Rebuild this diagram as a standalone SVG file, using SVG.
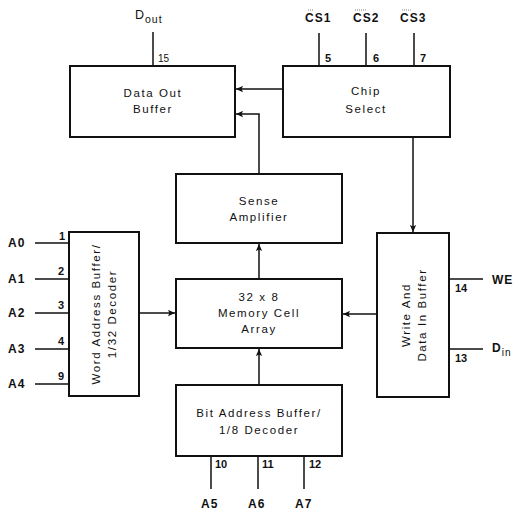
<svg xmlns="http://www.w3.org/2000/svg" width="519" height="514" viewBox="0 0 519 514">
<style>
.box{fill:#fff;stroke:#111;stroke-width:2}
.ln{fill:none;stroke:#111;stroke-width:1.5}
.t{font-family:"Liberation Sans",Arial,sans-serif;font-size:11.5px;letter-spacing:1.6px;fill:#111;text-anchor:middle}
.p{font-family:"Liberation Sans",Arial,sans-serif;font-size:11px;font-weight:bold;fill:#111}
.s{font-family:"Liberation Sans",Arial,sans-serif;font-size:12px;font-weight:bold;letter-spacing:1px;fill:#111}
</style>
<defs>
<marker id="ah" viewBox="0 0 10 10" refX="10" refY="5" markerWidth="9" markerHeight="7" markerUnits="userSpaceOnUse" orient="auto">
<path d="M0,0.5 L10,5 L0,9.5 L2,5 Z" fill="#111"/>
</marker>
</defs>
<rect width="519" height="514" fill="#fff"/>
<g id="connectors">
<path class="ln" d="M283,89 H236" marker-end="url(#ah)"/>
<path class="ln" d="M259,174 V114 H236" marker-end="url(#ah)"/>
<path class="ln" d="M413,137 V232" marker-end="url(#ah)"/>
<path class="ln" d="M259,279 V244" marker-end="url(#ah)"/>
<path class="ln" d="M259,385 V349" marker-end="url(#ah)"/>
<path class="ln" d="M139,313 H175" marker-end="url(#ah)"/>
<path class="ln" d="M377,314 H343" marker-end="url(#ah)"/>
<path class="ln" d="M153,32 V66"/>
<path class="ln" d="M319,33 V66 M366,33 V66 M414,33 V66"/>
<path class="ln" d="M35,243 H69 M35,279 H69 M35,313 H69 M35,349 H69 M35,384 H69"/>
<path class="ln" d="M211,456 V489 M258,456 V489 M304,456 V489"/>
<path class="ln" d="M449,279 H483 M449,349 H483"/>
</g>
<g id="data-out-buffer">
<rect class="box" x="70" y="66" width="165" height="71"/>
<text class="t" x="153" y="97">Data Out</text>
<text class="t" x="153" y="113">Buffer</text>
</g>
<g id="chip-select">
<rect class="box" x="283" y="66" width="167" height="71"/>
<text class="t" x="366" y="95">Chip</text>
<text class="t" x="366" y="113">Select</text>
</g>
<g id="sense-amplifier">
<rect class="box" x="176" y="174" width="166" height="69"/>
<text class="t" x="259" y="205">Sense</text>
<text class="t" x="259" y="221">Amplifier</text>
</g>
<g id="word-address-buffer">
<rect class="box" x="69" y="232" width="70" height="164"/>
<text class="t" transform="translate(100,314) rotate(-90)" x="0" y="0">Word Address Buffer/</text>
<text class="t" transform="translate(116,314) rotate(-90)" x="0" y="0">1/32 Decoder</text>
</g>
<g id="memory-cell-array">
<rect class="box" x="176" y="279" width="166" height="69"/>
<text class="t" x="259" y="301">32 x 8</text>
<text class="t" x="259" y="317">Memory Cell</text>
<text class="t" x="259" y="333">Array</text>
</g>
<g id="bit-address-buffer">
<rect class="box" x="176" y="385" width="166" height="71"/>
<text class="t" x="259" y="417">Bit Address Buffer/</text>
<text class="t" x="259" y="434">1/8 Decoder</text>
</g>
<g id="write-data-in-buffer">
<rect class="box" x="377" y="233" width="72" height="164"/>
<text class="t" transform="translate(410,315) rotate(-90)" x="0" y="0">Write And</text>
<text class="t" transform="translate(426,315) rotate(-90)" x="0" y="0">Data In Buffer</text>
</g>
<g id="labels">
<text class="t" x="135" y="19" style="text-anchor:start;font-size:12.5px;letter-spacing:1px">D<tspan font-size="10.5" dy="4">out</tspan></text>
<text class="p" x="158" y="62" style="font-weight:normal;font-size:10px">15</text>
<text class="s" x="305" y="22">CS1</text>
<text class="s" x="353" y="22">CS2</text>
<text class="s" x="400" y="22">CS3</text>
<path d="M308,10 H313 M355,10 H366 M402,10 H412" stroke="#666" stroke-width="0.8" stroke-dasharray="1,1"/>
<text class="p" x="325" y="62">5</text>
<text class="p" x="373" y="62">6</text>
<text class="p" x="420" y="62">7</text>
<text class="s" x="8" y="247">A0</text>
<text class="s" x="8" y="283">A1</text>
<text class="s" x="8" y="317">A2</text>
<text class="s" x="8" y="353">A3</text>
<text class="s" x="8" y="388">A4</text>
<text class="p" x="59" y="240">1</text>
<text class="p" x="58" y="275">2</text>
<text class="p" x="58" y="309">3</text>
<text class="p" x="58" y="345">4</text>
<text class="p" x="58" y="380">9</text>
<text class="p" x="215" y="468">10</text>
<text class="p" x="262" y="468">11</text>
<text class="p" x="309" y="468">12</text>
<text class="s" x="201" y="508">A5</text>
<text class="s" x="248" y="508">A6</text>
<text class="s" x="295" y="508">A7</text>
<text class="p" x="455" y="292">14</text>
<text class="p" x="455" y="362">13</text>
<text class="s" x="492" y="284">WE</text>
<text class="s" x="492" y="352">D<tspan font-size="10" font-weight="normal" dy="4">in</tspan></text>
</g>
</svg>
